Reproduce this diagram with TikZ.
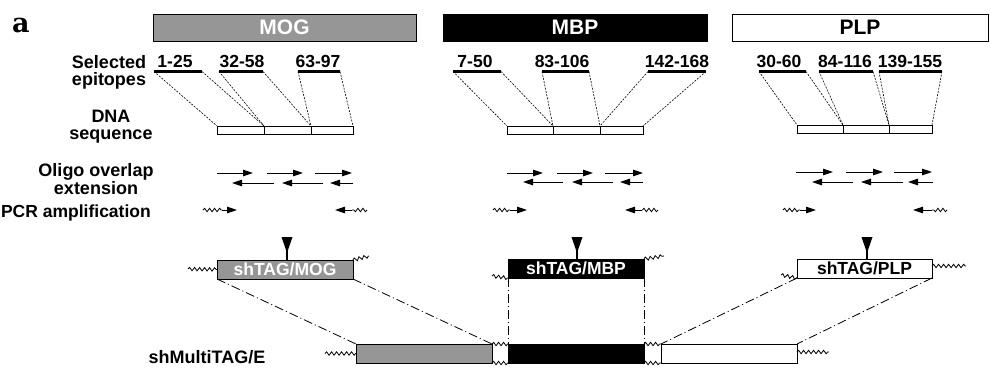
\documentclass[tikz,border=0pt]{standalone}
\usepackage{fontspec}
\setsansfont{Liberation Sans}
\newfontfamily\panelfont{DejaVu Serif}
\usetikzlibrary{arrows.meta,decorations.pathmorphing}
\definecolor{moggray}{RGB}{150,150,150}
\begin{document}
\begin{tikzpicture}[x=1pt,y=-1pt,
  lab/.style={font=\sffamily\bfseries\fontsize{17.5}{17.5}\selectfont, inner sep=0pt, anchor=base},
  side/.style={font=\sffamily\bfseries\fontsize{18}{18}\selectfont, inner sep=0pt, anchor=base},
  ttlbar/.style={draw, line width=0.9pt, font=\sffamily\bfseries\fontsize{21}{21}\selectfont, inner sep=0pt, outer sep=0pt, minimum height=27pt, anchor=north west},
  epibar/.style={line width=3pt},
  dna/.style={draw, line width=0.7pt, fill=white, minimum height=8pt, inner sep=0pt, outer sep=0pt, anchor=north west},
  epi/.style={dash pattern=on 2pt off 1.3pt, line width=0.6pt},
  arr/.style={line width=0.9pt, -{Triangle[length=10pt,width=6.5pt]}},
  wav/.style={decorate, decoration={snake, segment length=5pt, amplitude=1.7pt}, line width=0.8pt},
  dd/.style={line width=0.8pt, dash pattern=on 9pt off 3pt on 1pt off 3pt},
  tagbox/.style={draw, line width=0.8pt, font=\sffamily\bfseries\fontsize{17.5}{17.5}\selectfont, minimum height=19pt, inner sep=0pt, outer sep=0pt, anchor=north west},
]
\useasboundingbox (0,0) rectangle (991,377);

% panel letter
\node[font=\panelfont\bfseries\fontsize{27}{27}\selectfont, inner sep=0pt, anchor=base west] (panel) at (12,33) {a};

% title bars
\node[ttlbar, fill=moggray, text=white, minimum width=263pt] (mog) at (153,14) {MOG};
\node[ttlbar, fill=black, text=white, minimum width=264pt] (mbp) at (443,14) {MBP};
\node[ttlbar, fill=white, text=black, minimum width=256pt] (plp) at (732,14) {PLP};

% left labels
\node[side] (selA) at (109,69) {Selected};
\node[side] (selB) at (109,86) {epitopes};
\node[side] (dnaA) at (111,123) {DNA};
\node[side] (dnaB) at (111,140) {sequence};
\node[side] (oliA) at (96,176) {Oligo overlap};
\node[side] (oliB) at (96,194) {extension};
\node[lab, anchor=base east] (pcr) at (151,217) {PCR amplification};
\node[side] (multi) at (207,363) {shMultiTAG/E};

% epitopes: name/label/text centre/bar left/bar right
\foreach \n/\t/\c/\l/\r in {1/1-25/175/154/202, 2/32-58/242/219/263, 3/63-97/318/298/340,
  4/7-50/475/453/501, 5/83-106/562/542/589, 6/142-168/677/648/706,
  7/30-60/779/759/806, 8/84-116/845/819/873, 9/139-155/910/879/942}{
  \node[lab] (ep\n) at (\c,68) {\t};
  \coordinate (ep\n L) at (\l,71.5);
  \coordinate (ep\n R) at (\r,71.5);
  \draw[epibar] (ep\n L) -- (ep\n R);
}

% DNA sequence boxes: name/left/right/top
\foreach \n/\l/\r/\y in {1/217/264/126, 2/264/311/126, 3/311/353/126,
  4/507/553/126, 5/553/600/126, 6/600/643/126,
  7/797/843/125, 8/843/889/125, 9/889/932/125}{
  \pgfmathsetmacro{\w}{\r-\l}
  \node[dna, minimum width=\w pt] (dna\n) at (\l,\y) {};
}
\foreach \n in {1,...,9}{
  \draw[epi] (ep\n L) -- (dna\n.north west);
  \draw[epi] (ep\n R) -- (dna\n.north east);
}

% oligo overlap extension arrows: name/start/end/y
\foreach \n/\a/\b/\y in {a1/217/253/173, a2/267/303/173, a3/315/352/173,
  a4/274/232/183, a5/323/282/183, a6/353/330/183,
  b1/507/543/173, b2/557/593/173, b3/605/643/173,
  b4/563/523/182, b5/613/572/182, b6/643/620/182,
  c1/796/833/172, c2/846/883/172, c3/894/932/172,
  c4/853/812/182, c5/903/861/182, c6/933/908/182}{
  \coordinate (ol\n s) at (\a,\y);
  \coordinate (ol\n e) at (\b,\y);
  \draw[arr] (ol\n s) -- (ol\n e);
}

% PCR primers: name/wave start/wave end (=arrow start)/arrow end
\foreach \n/\a/\b/\c in {a1/203/222/237, a2/367/352/335,
  b1/493/510/527, b2/658/642/625,
  c1/783/800/816, c2/947/932/913}{
  \coordinate (pr\n w) at (\a,210);
  \coordinate (pr\n s) at (\b,210);
  \coordinate (pr\n e) at (\c,210);
  \draw[wav] (pr\n w) -- (pr\n s);
  \draw[arr] (pr\n s) -- (pr\n e);
}

% shTAG boxes
\node[tagbox, fill=moggray, text=white, minimum width=136pt] (tmog) at (217,260) {shTAG/MOG};
\node[tagbox, fill=black, text=white, minimum width=136pt] (tmbp) at (508,259) {shTAG/MBP};
\node[tagbox, fill=white, text=black, minimum width=135pt] (tplp) at (797,259) {shTAG/PLP};

% big down arrows
\foreach \n/\x in {mog/287, mbp/577, plp/867}{
  \coordinate (tri\n) at (\x,237);
  \fill (tri\n) ++(-5.5,0) -- ++(11,0) -- ++(-5.5,16) -- cycle;
  \draw[line width=1.2pt] (tri\n) -- (tri\n |- t\n.north);
}

% shTAG flanking waves
\coordinate (wm1) at (188,269);
\coordinate (wm2) at (369,256);
\draw[wav] (wm1) -- (tmog.west);
\draw[wav] (tmog.north east) -- (wm2);
\coordinate (wb1) at (492,276);
\coordinate (wb2) at (664,256);
\draw[wav] (wb1) -- (tmbp.south west);
\draw[wav] (tmbp.north east) -- (wb2);
\coordinate (wp1) at (781,275);
\coordinate (wp2) at (966,266);
\coordinate (wp3) at (932,266);
\draw[wav] (wp1) -- (tplp.south west);
\draw[wav] (wp3) -- (wp2);

% shMultiTAG/E construct
\node[dna, fill=moggray, line width=0.8pt, minimum width=136pt, minimum height=19pt] (bmog) at (356,344) {};
\node[dna, fill=black, line width=0.8pt, minimum width=136pt, minimum height=19pt] (bmbp) at (508,344) {};
\node[dna, fill=white, line width=0.8pt, minimum width=136pt, minimum height=19pt] (bplp) at (661,344) {};
\coordinate (wl) at (325,353.5);
\coordinate (wr0) at (797,352);
\coordinate (wr) at (829,352);
\draw[wav] (wl) -- (bmog.west);
\draw[wav] (bmog.north east) -- (bmbp.north west);
\draw[wav] (bmog.south east) -- (bmbp.south west);
\draw[wav] (bmbp.north east) -- (bplp.north west);
\draw[wav] (bmbp.south east) -- (bplp.south west);
\draw[wav] (wr0) -- (wr);

% dash-dot projections
\draw[dd] (tmog.south west) -- (bmog.north west);
\draw[dd] (tmog.south east) -- (bmog.north east);
\draw[dd] (tmbp.south west) -- (bmbp.north west);
\draw[dd] (tmbp.south east) -- (bmbp.north east);
\draw[dd] (tplp.south west) -- (bplp.north west);
\draw[dd] (tplp.south east) -- (bplp.north east);
\end{tikzpicture}
\end{document}
